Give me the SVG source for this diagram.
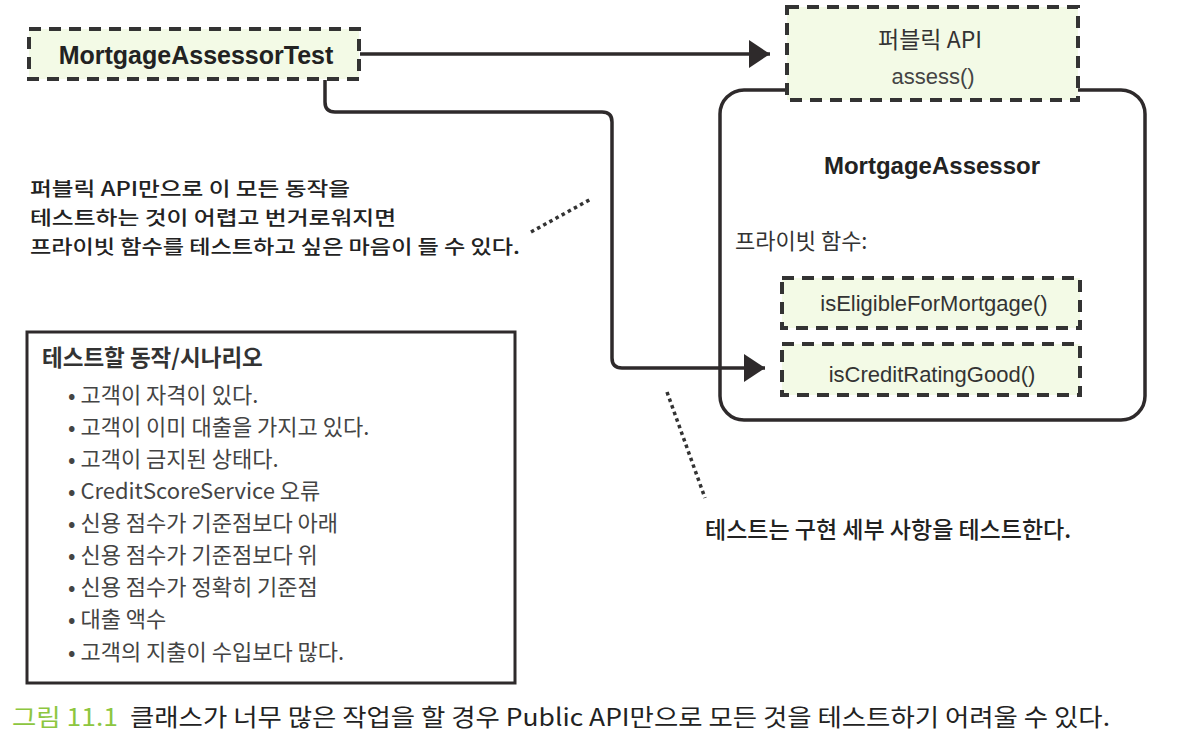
<svg xmlns="http://www.w3.org/2000/svg" width="1200" height="755" viewBox="0 0 1200 755">
<style>
.dash{fill:#f3fae6;stroke:#333;stroke-width:4;stroke-dasharray:12 8}
.ko{font-family:"Noto Sans CJK KR","Noto Sans",sans-serif}
.ar{font-family:"Liberation Sans","Noto Sans CJK KR",sans-serif}
.conn{fill:none;stroke:#2e2a2b;stroke-width:3.5}
.dot{fill:none;stroke:#333;stroke-width:3.5;stroke-dasharray:3.5 3.5}
</style>
<defs>
<marker id="ah" markerWidth="8" markerHeight="8" refX="6" refY="4" orient="auto" markerUnits="strokeWidth">
<path d="M0,0 L6,4 L0,8 z" fill="#2e2a2b"/>
</marker>
</defs>
<rect width="1200" height="755" fill="#fff"/>

<g id="assessor">
<rect x="720" y="90" width="425" height="330" rx="24" fill="none" stroke="#2e2a2b" stroke-width="3.5"/>
<text x="932" y="174" text-anchor="middle" class="ar" font-size="24" font-weight="bold" fill="#222">MortgageAssessor</text>
<text x="735" y="249" class="ko" font-size="22" fill="#333">프라이빗 함수:</text>
</g>

<g id="test">
<rect class="dash" x="29" y="29" width="330" height="50"/>
<text x="196" y="64" text-anchor="middle" class="ar" font-size="25" font-weight="bold" fill="#222">MortgageAssessorTest</text>
</g>

<g id="public-api">
<rect class="dash" x="787" y="7" width="291" height="93"/>
<text x="930" y="48" text-anchor="middle" class="ko" font-size="23" fill="#333">퍼블릭 API</text>
<text x="933" y="84" text-anchor="middle" class="ar" font-size="22" fill="#444">assess()</text>
</g>

<g id="eligible">
<rect class="dash" x="782" y="278" width="298" height="50"/>
<text x="934" y="311" text-anchor="middle" class="ar" font-size="22" fill="#333">isEligibleForMortgage()</text>
</g>

<g id="credit">
<rect class="dash" x="782" y="344" width="298" height="51"/>
<text x="932" y="382" text-anchor="middle" class="ar" font-size="22" fill="#333">isCreditRatingGood()</text>
</g>

<g id="connectors">
<path class="conn" d="M360,54 H770" marker-end="url(#ah)"/>
<path class="conn" d="M325,80 V102 Q325,112 335,112 H602 Q612,112 612,122 V358 Q612,368 622,368 H765" marker-end="url(#ah)"/>
<path class="dot" d="M531,232 L591,199"/>
<path class="dot" d="M667,392 L705,498"/>
</g>

<g id="note1" class="ko" font-size="19.5" font-weight="500" fill="#222">
<text x="30" y="196" textLength="320" lengthAdjust="spacingAndGlyphs">퍼블릭 API만으로 이 모든 동작을</text>
<text x="30" y="225" textLength="366" lengthAdjust="spacingAndGlyphs">테스트하는 것이 어렵고 번거로워지면</text>
<text x="30" y="254" textLength="490" lengthAdjust="spacingAndGlyphs">프라이빗 함수를 테스트하고 싶은 마음이 들 수 있다.</text>
</g>

<g id="scenarios">
<rect x="27" y="332" width="488" height="351" fill="none" stroke="#2e2a2b" stroke-width="3"/>
<text x="42" y="366" class="ko" font-size="22.5" font-weight="bold" fill="#333">테스트할 동작/시나리오</text>
<g class="ko" font-size="22" fill="#444">
<text x="68" y="403">• 고객이 자격이 있다.</text>
<text x="68" y="435">• 고객이 이미 대출을 가지고 있다.</text>
<text x="68" y="467">• 고객이 금지된 상태다.</text>
<text x="68" y="499">• CreditScoreService 오류</text>
<text x="68" y="531">• 신용 점수가 기준점보다 아래</text>
<text x="68" y="563">• 신용 점수가 기준점보다 위</text>
<text x="68" y="595">• 신용 점수가 정확히 기준점</text>
<text x="68" y="627">• 대출 액수</text>
<text x="68" y="660">• 고객의 지출이 수입보다 많다.</text>
</g>
</g>

<g id="note2">
<text x="705" y="538" class="ko" font-size="23" font-weight="500" fill="#222">테스트는 구현 세부 사항을 테스트한다.</text>
</g>

<g id="caption" class="ko" font-size="24">
<text x="12" y="726" fill="#8dc63f" textLength="106" lengthAdjust="spacingAndGlyphs">그림 11.1</text>
<text x="130" y="726" fill="#222" textLength="980" lengthAdjust="spacingAndGlyphs">클래스가 너무 많은 작업을 할 경우 Public API만으로 모든 것을 테스트하기 어려울 수 있다.</text>
</g>
</svg>
